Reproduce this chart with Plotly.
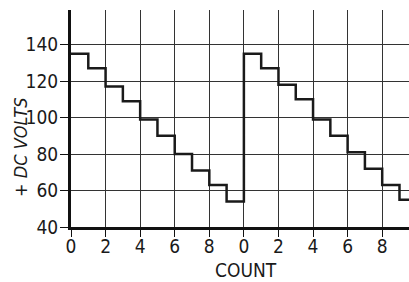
import plotly.graph_objects as go

count = list(range(21))
volts = [135, 127, 117, 109, 99, 90, 80, 71, 63, 54,
         135, 127, 118, 110, 99, 90, 81, 72, 63, 55, 55]
tick_vals = [0, 2, 4, 6, 8, 10, 12, 14, 16, 18]
tick_text = ["0", "2", "4", "6", "8", "0", "2", "4", "6", "8"]
y_ticks = [40, 60, 80, 100, 120, 140]

FONT = "Liberation Sans Narrow, DejaVu Sans Condensed, sans-serif"

fig = go.Figure()
fig.add_trace(go.Scatter(x=count, y=volts, mode="lines", line_shape="hv",
                         line=dict(color="#1a1a1a", width=2.5),
                         hoverinfo="skip", showlegend=False))

fig.update_layout(
    width=409, height=282,
    margin=dict(l=71, r=0, t=10, b=55),
    paper_bgcolor="white", plot_bgcolor="white",
    font=dict(family=FONT, size=19, color="#1a1a1a"),
    xaxis=dict(range=[0, 19.55], tickvals=tick_vals, ticktext=tick_text,
               showgrid=True, gridcolor="#333", gridwidth=1,
               showline=True, linecolor="#111", linewidth=3,
               ticks="outside", ticklen=7, tickcolor="#111", tickwidth=1,
               ticklabelstandoff=-7,
               zeroline=False, fixedrange=True),
    yaxis=dict(range=[40, 159], tickvals=y_ticks,
               showgrid=True, gridcolor="#333", gridwidth=1,
               showline=True, linecolor="#111", linewidth=3,
               ticks="outside", ticklen=8, tickcolor="#111", tickwidth=1,
               ticklabelstandoff=-2,
               zeroline=False, fixedrange=True),
)
fig.add_annotation(text="<i>+ DC VOLTS</i>", xref="paper", yref="paper",
                   x=-(71 - 20) / 338.0, y=(227 - 148) / 217.0,
                   xanchor="center", yanchor="middle", showarrow=False,
                   textangle=-90, font=dict(size=18, family=FONT))
fig.add_annotation(text="COUNT", xref="paper", yref="paper",
                   x=(245.5 - 71) / 338.0, y=-(270 - 227) / 217.0,
                   xanchor="center", yanchor="middle", showarrow=False,
                   font=dict(size=19, family=FONT))

fig.write_html("out.html", config={"displayModeBar": False},
               post_script="document.body.style.margin='0';document.body.style.padding='0';")
